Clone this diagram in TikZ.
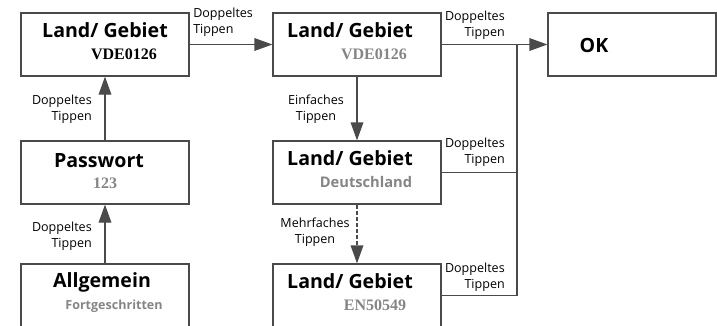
\documentclass[tikz,border=0pt]{standalone}
\usepackage{fontspec}
\setmainfont{Open Sans}
\newfontfamily\timesfont{Liberation Serif}
\usetikzlibrary{arrows.meta}
\definecolor{linegray}{HTML}{4A4A4A}
\definecolor{textgray}{HTML}{858585}

\begin{document}
\begin{tikzpicture}[x=0.75pt, y=-0.75pt,
    box/.style={draw=linegray, line width=0.9pt, minimum width=126pt, minimum height=47.25pt, inner sep=0pt},
    title/.style={font=\fontsize{14.7}{16}\selectfont\bfseries, inner sep=0pt, anchor=base},
    value/.style={font=\fontsize{12}{14}\timesfont\bfseries, inner sep=0pt, anchor=base},
    valuesans/.style={font=\fontsize{11}{12}\selectfont\bfseries, text=textgray, inner sep=0pt, anchor=base},
    hint/.style={font=\fontsize{9.4}{12}\selectfont, inner sep=0pt},
    conn/.style={draw=linegray, line width=0.9pt, -{Triangle[length=13.5pt, width=9.5pt]}},
    wire/.style={draw=linegray, line width=0.9pt}]
        \useasboundingbox (0,0) rectangle (717,325);
        \clip (0,0) rectangle (717,325);

        % Boxes
        \node[box] (land1) at (105,44.5) {};
        \node[box] (land2) at (357,44.5) {};
        \node[box] (ok) at (632,44.5) {};
        \node[box] (pass) at (105,172.5) {};
        \node[box] (land3) at (357,172.5) {};
        \node[box] (allg) at (105,295.5) {};
        \node[box] (land4) at (357,295.5) {};

        % Box texts
        \node[title] (land1-t) at (105,37) {Land/ Gebiet};
        \node[value] (land1-v) at (124,59) {VDE0126};
        \node[title] (land2-t) at (350,37) {Land/ Gebiet};
        \node[value, text=textgray] (land2-v) at (374,59) {VDE0126};
        \node[title] (ok-t) at (594,52) {OK};
        \node[title] (pass-t) at (99,167) {Passwort};
        \node[value, text=textgray] (pass-v) at (105,188) {123};
        \node[title] (land3-t) at (350,165) {Land/ Gebiet};
        \node[valuesans] (land3-v) at (366,187) {Deutschland};
        \node[valuesans, font=\fontsize{9.4}{11}\selectfont\bfseries] (allg-v) at (114,309) {Fortgeschritten};
        \node[title] (allg-t) at (102,287) {Allgemein};
        \node[title] (land4-t) at (350,288) {Land/ Gebiet};
        \node[value, text=textgray] (land4-v) at (375,310) {EN50549};

        % Connectors
        \draw[conn] (land1) -- (land2);
        \draw[conn] (pass) -- (land1);
        \draw[conn] (allg) -- (pass);
        \draw[conn] (land2) -- (land3);
        \draw[conn, dash pattern=on 3pt off 1.5pt] (land3) -- (land4);
        \coordinate (bus) at (517,44.5);
        \draw[conn] (land2) -- (ok);
        \draw[wire] (land4.east) -| (bus);
        \draw[wire] (land3.east) -- (land3.east -| bus);

        % Connector labels
        \node[hint, anchor=base west, align=left] (h12) at (193,33) {Doppeltes\\Tippen};
        \node[hint, anchor=base east, align=right] (h2ok) at (505,36) {Doppeltes\\Tippen};
        \node[hint, anchor=base east, align=right] (h3ok) at (505,163) {Doppeltes\\Tippen};
        \node[hint, anchor=base east, align=right] (h4ok) at (505,288) {Doppeltes\\Tippen};
        \node[hint, anchor=base east, align=right] (hp1) at (92,120) {Doppeltes\\Tippen};
        \node[hint, anchor=base east, align=right] (hap) at (92,247) {Doppeltes\\Tippen};
        \node[hint, anchor=base, align=center] (h23) at (316,120) {Einfaches\\Tippen};
        \node[hint, anchor=base, align=center] (h34) at (315,243) {Mehrfaches\\Tippen};
\end{tikzpicture}
\end{document}
